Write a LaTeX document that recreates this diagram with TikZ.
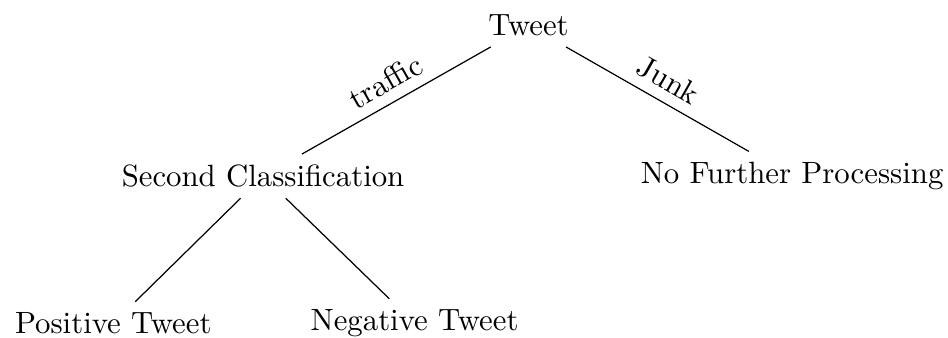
\documentclass[tikz,border=0pt]{standalone}
\begin{document}
\begin{tikzpicture}
			\useasboundingbox (-6.033, 0.291) rectangle (4.789, -3.567);
			\node (tweet) at (0, 0) {Tweet};
			\node (second) at (-3.03, -1.72) {Second Classification};
			\node (nofurther) at (3.01, -1.72) {No Further Processing};
			\node (positive) at (-4.74, -3.40) {Positive Tweet};
			\node (negative) at (-1.30, -3.40) {Negative Tweet};
			\draw (tweet) -- node[above, sloped] {traffic} (second);
			\draw (tweet) -- node[above, sloped] {Junk} (nofurther);
			\draw (second) -- (positive);
			\draw (second) -- (negative);
		\end{tikzpicture}
\end{document}
